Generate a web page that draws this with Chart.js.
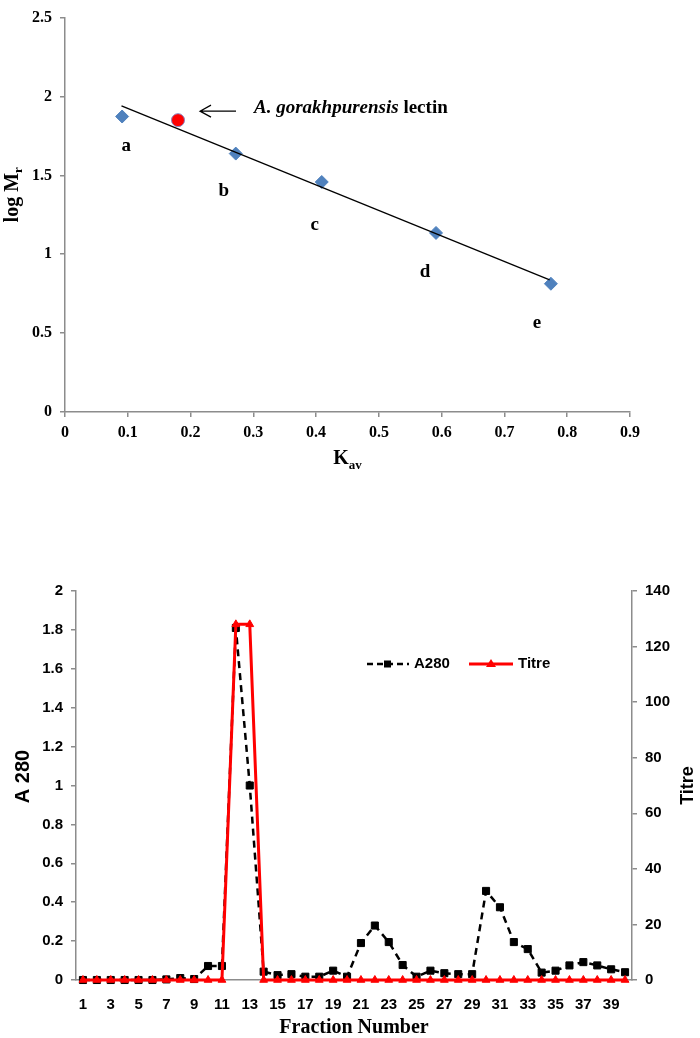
<!DOCTYPE html>
<html lang="en">
<head>
  <meta charset="UTF-8">
  <title>Gel filtration of A. gorakhpurensis lectin</title>
  <script src="https://cdn.jsdelivr.net/npm/chart.js"></script>
  <style>
    body { margin: 0; background: #fff; }
    .wrap { position: absolute; left: 0; width: 700px; }
    #top-wrap { top: 0; height: 480px; }
    #bottom-wrap { top: 480px; height: 558px; }
  </style>
</head>
<body>
  <div class="wrap" id="top-wrap"><canvas id="mr-chart" width="700" height="480"></canvas></div>
  <div class="wrap" id="bottom-wrap"><canvas id="elution-chart" width="700" height="558"></canvas></div>

  <script>
    // --- calibration plot (log Mr vs Kav) ---
    var stdKav = [0.091, 0.272, 0.409, 0.591, 0.774];
    var stdLogMr = [1.873, 1.638, 1.458, 1.135, 0.813];
    var stdNames = ['a', 'b', 'c', 'd', 'e'];
    var lectinKav = [0.18];
    var lectinLogMr = [1.85];
    var fitKav = [0.09, 0.772];
    var fitLogMr = [1.94, 0.838];

    // --- elution profile ---
    var fractions = ['1', '2', '3', '4', '5', '6', '7', '8', '9', '10',
      '11', '12', '13', '14', '15', '16', '17', '18', '19', '20',
      '21', '22', '23', '24', '25', '26', '27', '28', '29', '30',
      '31', '32', '33', '34', '35', '36', '37', '38', '39', '40'];
    var a280 = [0, 0, 0, 0, 0, 0, 0.003, 0.01, 0.005, 0.072,
      0.072, 1.81, 1.0, 0.043, 0.025, 0.03, 0.017, 0.017, 0.048, 0.017,
      0.19, 0.28, 0.195, 0.077, 0.017, 0.048, 0.035, 0.03, 0.03, 0.458,
      0.374, 0.195, 0.159, 0.038, 0.048, 0.075, 0.092, 0.075, 0.055, 0.04];
    var titre = [0, 0, 0, 0, 0, 0, 0, 0, 0, 0,
      0, 128, 128, 0, 0, 0, 0, 0, 0, 0,
      0, 0, 0, 0, 0, 0, 0, 0, 0, 0,
      0, 0, 0, 0, 0, 0, 0, 0, 0, 0];

    var serif = "'Liberation Serif', 'Times New Roman', serif";
    var sans = "'Liberation Sans', Arial, sans-serif";
    var axisGrey = '#8c8c8c';

    function pairs(xs, ys) {
      return xs.map(function(x, i) { return { x: x, y: ys[i] }; });
    }

    // excel style: 2 not 2.0
    function plainNum(v) {
      return String(parseFloat(v.toFixed(3)));
    }

    var mrLabels = {
      id: 'mrLabels',
      afterDraw: function(chart) {
        var ctx = chart.ctx, xs = chart.scales.x, ys = chart.scales.y, area = chart.chartArea;
        var shift = [[4, 30], [-12, 38], [-7, 43], [-11, 39], [-14, 39]];
        ctx.save();
        ctx.fillStyle = '#000';
        ctx.textAlign = 'center';
        ctx.textBaseline = 'middle';
        ctx.font = 'bold 19px ' + serif;
        stdNames.forEach(function(t, i) {
          ctx.fillText(t, xs.getPixelForValue(stdKav[i]) + shift[i][0], ys.getPixelForValue(stdLogMr[i]) + shift[i][1]);
        });

        // arrow + lectin note
        var px = xs.getPixelForValue(lectinKav[0]), py = ys.getPixelForValue(lectinLogMr[0]);
        var ax = px + 22, ay = py - 9;
        ctx.strokeStyle = '#000';
        ctx.lineWidth = 1.2;
        ctx.beginPath();
        ctx.moveTo(ax + 36, ay); ctx.lineTo(ax, ay);
        ctx.moveTo(ax + 11, ay - 6); ctx.lineTo(ax, ay); ctx.lineTo(ax + 11, ay + 6);
        ctx.stroke();
        ctx.textAlign = 'left';
        ctx.font = 'italic bold 19px ' + serif;
        ctx.fillText('A. gorakhpurensis', px + 76, py - 12);
        var w = ctx.measureText('A. gorakhpurensis ').width;
        ctx.font = 'bold 19px ' + serif;
        ctx.fillText('lectin', px + 76 + w, py - 12);

        // x title K_av
        var cx = (area.left + area.right) / 2;
        ctx.font = 'bold 20px ' + serif;
        var kw = ctx.measureText('K').width;
        ctx.font = 'bold 13px ' + serif;
        var sw = ctx.measureText('av').width;
        var x0 = cx - (kw + sw) / 2;
        ctx.font = 'bold 20px ' + serif;
        ctx.fillText('K', x0, 459);
        ctx.font = 'bold 13px ' + serif;
        ctx.fillText('av', x0 + kw, 466);

        // y title log M_r
        ctx.translate(13, (area.top + area.bottom) / 2 - 20);
        ctx.rotate(-Math.PI / 2);
        ctx.font = 'bold 20px ' + serif;
        var lw = ctx.measureText('log M').width;
        ctx.font = 'bold 13px ' + serif;
        var rw = ctx.measureText('r').width;
        var y0 = -(lw + rw) / 2;
        ctx.font = 'bold 20px ' + serif;
        ctx.fillText('log M', y0, 0);
        ctx.font = 'bold 13px ' + serif;
        ctx.fillText('r', y0 + lw, 6);
        ctx.restore();
      }
    };

    var elutionDecor = {
      id: 'elutionDecor',
      afterDraw: function(chart) {
        var ctx = chart.ctx, area = chart.chartArea;
        var midY = (area.top + area.bottom) / 2;
        ctx.save();
        ctx.fillStyle = '#000';
        ctx.textBaseline = 'middle';

        // legend
        var ly = area.top + 73, lx = area.left + 291;
        ctx.strokeStyle = '#000';
        ctx.lineWidth = 2.5;
        ctx.setLineDash([6, 4]);
        ctx.beginPath(); ctx.moveTo(lx, ly); ctx.lineTo(lx + 42, ly); ctx.stroke();
        ctx.setLineDash([]);
        ctx.fillRect(lx + 17, ly - 3.5, 7, 7);
        ctx.font = 'bold 15px ' + sans;
        ctx.textAlign = 'left';
        ctx.fillText('A280', lx + 47, ly);
        var tx = lx + 102;
        ctx.strokeStyle = '#ff0000';
        ctx.lineWidth = 3;
        ctx.beginPath(); ctx.moveTo(tx, ly); ctx.lineTo(tx + 44, ly); ctx.stroke();
        ctx.fillStyle = '#ff0000';
        ctx.beginPath(); ctx.moveTo(tx + 22, ly - 5); ctx.lineTo(tx + 27, ly + 3); ctx.lineTo(tx + 17, ly + 3); ctx.closePath(); ctx.fill();
        ctx.fillStyle = '#000';
        ctx.fillText('Titre', tx + 49, ly);

        // x title
        ctx.textAlign = 'center';
        ctx.font = 'bold 20px ' + serif;
        ctx.fillText('Fraction Number', (area.left + area.right) / 2, 548);

        // left title
        ctx.save();
        ctx.translate(23, midY - 9);
        ctx.rotate(-Math.PI / 2);
        ctx.font = 'bold 20px ' + sans;
        ctx.fillText('A 280', 0, 0);
        ctx.restore();

        // right title
        ctx.save();
        ctx.translate(688, midY);
        ctx.rotate(-Math.PI / 2);
        ctx.font = 'bold 18px ' + sans;
        ctx.fillText('Titre', 0, 0);
        ctx.restore();
        ctx.restore();
      }
    };

    new Chart(document.getElementById('mr-chart'), {
      type: 'scatter',
      data: {
        datasets: [{
          label: 'fit',
          type: 'line',
          data: pairs(fitKav, fitLogMr),
          borderColor: '#000',
          borderWidth: 1.3,
          pointRadius: 0,
          fill: false
        }, {
          label: 'A. gorakhpurensis lectin',
          data: pairs(lectinKav, lectinLogMr),
          pointStyle: 'circle',
          pointRadius: 6.5,
          backgroundColor: '#ff0000',
          borderColor: '#8a8ac4',
          borderWidth: 1
        }, {
          label: 'standards',
          data: pairs(stdKav, stdLogMr),
          pointStyle: 'rectRot',
          pointRadius: 6.5,
          backgroundColor: '#4f81bd',
          borderColor: '#4f81bd',
          borderWidth: 1
        }]
      },
      options: {
        responsive: false,
        animation: false,
        layout: { padding: { left: 25, top: 9, right: 70, bottom: 38 } },
        plugins: { legend: { display: false }, tooltip: { enabled: false } },
        scales: {
          x: {
            type: 'linear', min: 0, max: 0.9,
            ticks: { stepSize: 0.1, color: '#000', padding: 6, font: { family: serif, size: 16, weight: 'bold' }, callback: plainNum },
            grid: { drawOnChartArea: false, color: axisGrey, tickLength: 5, lineWidth: 1.5 },
            border: { color: axisGrey, width: 1.5 },
            afterFit: function(s) { s.height = 30; }
          },
          y: {
            min: 0, max: 2.5,
            ticks: { stepSize: 0.5, color: '#000', padding: 8, font: { family: serif, size: 16, weight: 'bold' }, callback: plainNum },
            grid: { drawOnChartArea: false, color: axisGrey, tickLength: 5, lineWidth: 1.5 },
            border: { color: axisGrey, width: 1.5 },
            afterFit: function(s) { s.width = 40; }
          }
        }
      },
      plugins: [mrLabels]
    });

    new Chart(document.getElementById('elution-chart'), {
      type: 'line',
      data: {
        labels: fractions,
        datasets: [{
          label: 'A280',
          data: a280,
          yAxisID: 'y',
          order: 1,
          borderColor: '#000',
          backgroundColor: '#000',
          borderWidth: 2.5,
          borderDash: [7, 5],
          pointStyle: 'rect',
          pointRadius: 5,
          pointBorderWidth: 1,
          clip: false,
          tension: 0
        }, {
          label: 'Titre',
          data: titre,
          yAxisID: 'y1',
          order: 0,
          borderColor: '#ff0000',
          backgroundColor: '#ff0000',
          borderWidth: 3,
          pointStyle: 'triangle',
          pointRadius: 4.5,
          pointBorderWidth: 1,
          clip: false,
          tension: 0
        }]
      },
      options: {
        responsive: false,
        animation: false,
        layout: { padding: { left: 0, top: 111, right: 0, bottom: 0 } },
        plugins: { legend: { display: false }, tooltip: { enabled: false } },
        scales: {
          x: {
            offset: true,
            ticks: {
              autoSkip: false, maxRotation: 0, color: '#000', padding: 8,
              font: { family: sans, size: 15, weight: 'bold' },
              callback: function(v, i) { return i % 2 === 0 ? fractions[i] : ''; }
            },
            grid: { display: false },
            border: { color: axisGrey, width: 1.5 },
            afterFit: function(s) { s.height = 58; }
          },
          y: {
            position: 'left', min: 0, max: 2,
            ticks: { stepSize: 0.2, color: '#000', padding: 8, font: { family: sans, size: 15, weight: 'bold' }, callback: plainNum },
            grid: { drawOnChartArea: false, color: axisGrey, tickLength: 5, lineWidth: 1.5 },
            border: { color: axisGrey, width: 1.5 },
            afterFit: function(s) { s.width = 76; }
          },
          y1: {
            position: 'right', min: 0, max: 140,
            ticks: { stepSize: 20, color: '#000', padding: 8, font: { family: sans, size: 15, weight: 'bold' } },
            grid: { drawOnChartArea: false, color: axisGrey, tickLength: 5, lineWidth: 1.5 },
            border: { color: axisGrey, width: 1.5 },
            afterFit: function(s) { s.width = 68; }
          }
        }
      },
      plugins: [elutionDecor]
    });
  </script>
</body>
</html>
